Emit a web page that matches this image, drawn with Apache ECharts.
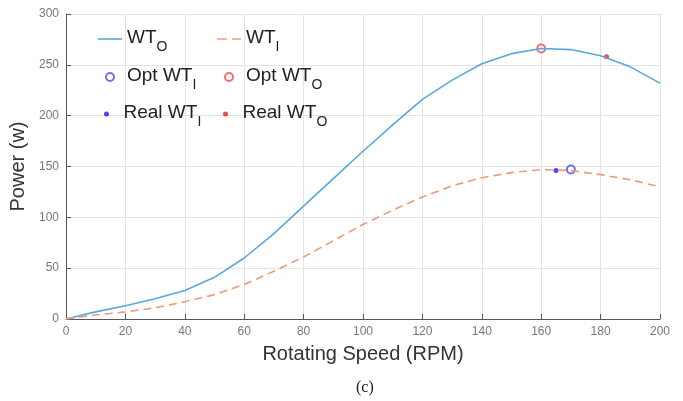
<!DOCTYPE html>
<html><head><meta charset="utf-8">
<script src="https://cdn.jsdelivr.net/npm/echarts@6/dist/echarts.min.js"></script>
<style>html,body{margin:0;padding:0;background:#fff}#c{width:683px;height:401px}</style>
</head><body><div id="c"></div>
<script>
var speed = [0,10,20,30,40,50,60,70,80,90,100,110,120,130,140,150,160,170,180,190,200];
var wtO = [0,7,13,20,28,41,60,84,111,138,165,191,216,235,251,261,266,265,259,248,232];
var wtI = [0,4,7,11,17,24,34,47,61,77,93,107,120,131,139,144,147,146,142,137,130];
var optWTI = [170,147];
var optWTO = [160,266];
var realWTI = [165,146];
var realWTO = [182,258];

function pairs(xs, ys){ return xs.map(function(x,i){ return [x, ys[i]]; }); }

var blue = '#5aa7db', orange = '#ef9a78';
var solidIcon = 'path://M0,0H24V1.6H0Z';
var dashIcon = 'path://M0,0H10V1.6H0Z M15,0H24V1.6H15Z';
var legendText = {
  fontFamily: 'Liberation Sans', fontSize: 19, color: '#222',
  rich: {
    w: {fontFamily: 'Liberation Sans', fontSize: 19, color: '#222', lineHeight: 22, verticalAlign: 'top'},
    s: {fontFamily: 'Liberation Sans', fontSize: 14, color: '#222', lineHeight: 14, padding: [12,0,0,0], verticalAlign: 'top'}
  }
};
function fmt(name){
  var m = name.split('_');
  return '{w|' + m[0] + '}{s|' + m[1] + '}';
}
function leg(left, top, h, data){
  return {orient: 'vertical', left: left, top: top, itemGap: 12, itemWidth: 24, itemHeight: h,
          data: data, formatter: fmt, textStyle: legendText, selectedMode: false};
}

var chart = echarts.init(document.getElementById('c'), null, {renderer: 'canvas'});
chart.setOption({
  animation: false,
  backgroundColor: '#fff',
  title: {
    text: '(c)', left: 351, top: 375,
    textStyle: {fontFamily: 'Liberation Serif', fontSize: 16, fontWeight: 'normal', color: '#222'}
  },
  grid: {left: 66, right: 23, top: 14, bottom: 82},
  xAxis: {
    type: 'value', min: 0, max: 200, interval: 20,
    name: 'Rotating Speed (RPM)', nameLocation: 'middle', nameGap: 25,
    nameTextStyle: {fontFamily: 'Liberation Sans', fontSize: 20, color: '#333'},
    axisLine: {lineStyle: {color: '#555', width: 1}},
    axisTick: {inside: true, length: 5, lineStyle: {color: '#555'}},
    axisLabel: {color: '#777', fontSize: 12, fontFamily: 'Liberation Sans', margin: 7},
    splitLine: {show: true, lineStyle: {color: '#e4e4e4', width: 1}}
  },
  yAxis: {
    type: 'value', min: 0, max: 300, interval: 50,
    name: 'Power (w)', nameLocation: 'middle', nameGap: 25,
    nameTextStyle: {fontFamily: 'Liberation Sans', fontSize: 20, color: '#333'},
    axisLine: {show: true, lineStyle: {color: '#555', width: 1}},
    axisTick: {show: true, inside: true, length: 5, lineStyle: {color: '#555'}},
    axisLabel: {color: '#777', fontSize: 12, fontFamily: 'Liberation Sans', margin: 7},
    splitLine: {show: true, lineStyle: {color: '#e4e4e4', width: 1}}
  },
  legend: [
    leg(93, 23, 8, [{name: 'WT_O', icon: solidIcon}, 'Opt WT_I']),
    leg(212, 23, 8, [{name: 'WT_I', icon: dashIcon}, 'Opt WT_O']),
    leg(99, 98, 5, ['Real WT_I']),
    leg(218, 98, 5, ['Real WT_O'])
  ],
  series: [
    {name: 'WT_O', type: 'line', data: pairs(speed, wtO), symbol: 'none',
     lineStyle: {color: blue, width: 1.6}, itemStyle: {color: blue}},
    {name: 'WT_I', type: 'line', data: pairs(speed, wtI), symbol: 'none',
     lineStyle: {color: orange, width: 1.6, type: [8,5]}, itemStyle: {color: orange}},
    {name: 'Opt WT_I', type: 'scatter', data: [optWTI], symbol: 'emptyCircle', symbolSize: 8,
     itemStyle: {color: '#4b4bf0', borderColor: '#4b4bf0', borderWidth: 1.3}},
    {name: 'Opt WT_O', type: 'scatter', data: [optWTO], symbol: 'emptyCircle', symbolSize: 8,
     itemStyle: {color: '#f04b4b', borderColor: '#f04b4b', borderWidth: 1.3}},
    {name: 'Real WT_I', type: 'scatter', data: [realWTI], symbol: 'circle', symbolSize: 5,
     itemStyle: {color: '#1a1aee'}},
    {name: 'Real WT_O', type: 'scatter', data: [realWTO], symbol: 'circle', symbolSize: 5,
     itemStyle: {color: '#ee1a1a'}}
  ]
});
</script>
</body></html>
